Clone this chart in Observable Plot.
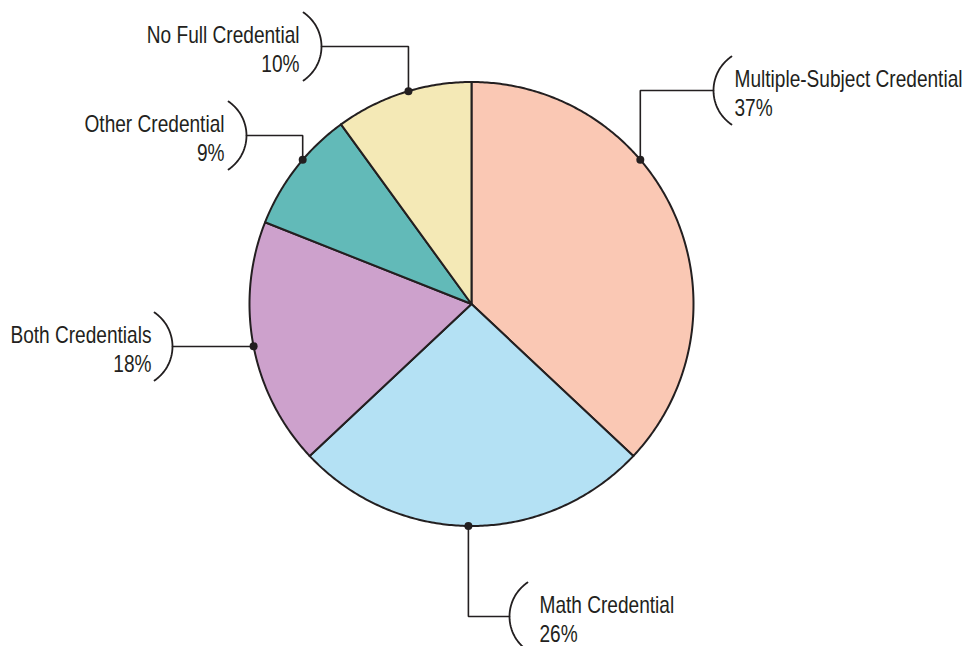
<!DOCTYPE html>
<html>
<head>
<meta charset="utf-8">
<script src="https://cdn.jsdelivr.net/npm/d3@7"></script>
<script src="https://cdn.jsdelivr.net/npm/@observablehq/plot@0.6"></script>
<style>
  html, body { margin: 0; padding: 0; background: #ffffff; }
  #chart svg { display: block; }
</style>
</head>
<body>
<div id="chart"></div>
<script>
// ---- data ----
const categories = [
  "Multiple-Subject Credential",
  "Math Credential",
  "Both Credentials",
  "Other Credential",
  "No Full Credential"
];
const shares = [37, 26, 18, 9, 10];
const percentLabels = ["37%", "26%", "18%", "9%", "10%"];
const colors = ["#FAC8B4", "#B4E1F4", "#CDA1CC", "#62BAB8", "#F4E9B6"];

// ---- layout (pixels) ----
const W = 966, H = 646;
const CX = 471, CY = 303.5, RAD = 222;
const anchorDeg = [49.5, 180.8, 259, 310.5, 343.5];
const leaderY   = [90, 616, 346, 135, 46];
const bracketX  = [713, 509, 172, 246, 321];
const textX     = [734, 539, 151, 224, 299];
const side      = [1, 1, -1, -1, -1];
const textDY = 2;
const BR_HALF = 34, BR_SAG = 18;
const INK = "#231f20";
const FONT = "'Liberation Sans', Arial, Helvetica, sans-serif";
const FONT_SIZE = 23;
const NARROW = 0.83;

const ux = px => (px - CX) / RAD;
const uy = py => (CY - py) / RAD;

// pie slices as polygons in unit coordinates
const total = d3.sum(shares);
let acc = 0;
const slicePts = [];
categories.forEach((c, i) => {
  const a0 = acc / total * 2 * Math.PI;
  acc += shares[i];
  const a1 = acc / total * 2 * Math.PI;
  slicePts.push({c, x: 0, y: 0});
  const n = Math.max(2, Math.ceil((a1 - a0) / 0.01));
  for (let k = 0; k <= n; k++) {
    const a = a0 + (a1 - a0) * k / n;
    slicePts.push({c, x: Math.sin(a), y: Math.cos(a)});
  }
});

// anchor dots
const anchors = categories.map((c, i) => {
  const a = anchorDeg[i] * Math.PI / 180;
  return {c, x: Math.sin(a), y: Math.cos(a)};
});

// leader lines
const leaderPts = [];
anchors.forEach((d, i) => {
  leaderPts.push({c: d.c, x: d.x, y: d.y});
  leaderPts.push({c: d.c, x: d.x, y: uy(leaderY[i])});
  leaderPts.push({c: d.c, x: ux(bracketX[i]), y: uy(leaderY[i])});
});

// brackets
const Rb = (BR_HALF * BR_HALF + BR_SAG * BR_SAG) / (2 * BR_SAG);
const phiMax = Math.asin(BR_HALF / Rb);
const bracketPts = [];
categories.forEach((c, i) => {
  const n = 30;
  for (let k = 0; k <= n; k++) {
    const phi = -phiMax + 2 * phiMax * k / n;
    const px = side[i] === 1
      ? bracketX[i] + Rb - Rb * Math.cos(phi)
      : bracketX[i] - Rb + Rb * Math.cos(phi);
    const py = leaderY[i] + Rb * Math.sin(phi);
    bracketPts.push({c, x: ux(px), y: uy(py)});
  }
});

// labels
const labels = categories.map((c, i) => ({
  c, side: side[i],
  x: ux(textX[i]), y: uy(leaderY[i] + textDY),
  text: c + "\n" + percentLabels[i]
}));

const textOpts = {
  x: "x", y: "y", text: "text",
  fontSize: FONT_SIZE, fontFamily: FONT, fill: INK,
  lineHeight: 1.22, lineAnchor: "middle"
};

const svg = Plot.plot({
  width: W, height: H,
  margin: 0,
  x: {type: "linear", domain: [-1, 1], range: [CX - RAD, CX + RAD], axis: null},
  y: {type: "linear", domain: [-1, 1], range: [CY + RAD, CY - RAD], axis: null},
  color: {domain: categories, range: colors},
  style: {background: "#ffffff", overflow: "visible"},
  marks: [
    Plot.line(slicePts, {x: "x", y: "y", z: "c", fill: "c", stroke: INK,
      strokeWidth: 2, strokeLinejoin: "round", curve: "linear-closed"}),
    Plot.line(leaderPts, {x: "x", y: "y", z: "c", stroke: INK, strokeWidth: 1.6,
      strokeLinejoin: "miter"}),
    Plot.line(bracketPts, {x: "x", y: "y", z: "c", stroke: INK, strokeWidth: 1.8}),
    Plot.dot(anchors, {x: "x", y: "y", r: 4, fill: INK, stroke: null}),
    Plot.text(labels.filter(d => d.side === 1), {...textOpts, textAnchor: "start"}),
    Plot.text(labels.filter(d => d.side === -1), {...textOpts, textAnchor: "end"})
  ]
});

document.getElementById("chart").appendChild(svg);

// condense label glyphs horizontally around their anchor
svg.querySelectorAll('g[aria-label="text"] text').forEach(t => {
  let ax = 0;
  const tr = t.getAttribute("transform");
  const m = tr && tr.match(/translate\(\s*([-\d.e]+)/);
  if (m) ax = +m[1];
  else if (t.getAttribute("x") != null) ax = +t.getAttribute("x");
  const g = document.createElementNS("http://www.w3.org/2000/svg", "g");
  g.setAttribute("transform", `translate(${ax},0) scale(${NARROW},1) translate(${-ax},0)`);
  t.parentNode.insertBefore(g, t);
  g.appendChild(t);
});
</script>
</body>
</html>
